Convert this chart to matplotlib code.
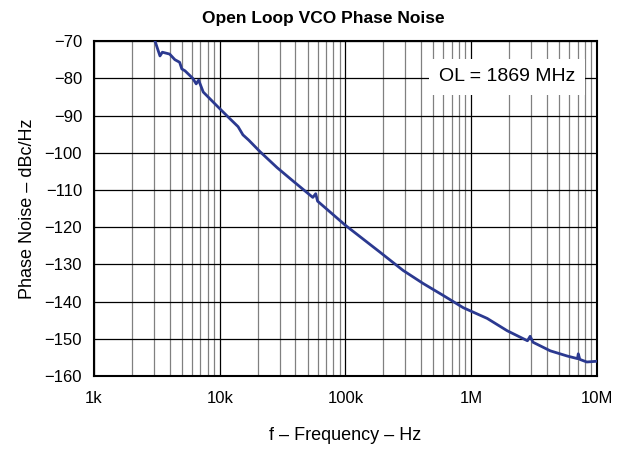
import numpy as np
import matplotlib.pyplot as plt
from matplotlib.ticker import LogLocator, NullFormatter

plt.rcParams['font.family'] = ['Liberation Sans', 'DejaVu Sans']

# phase noise curve (Hz, dBc/Hz)
freq = [3.06e3, 3.2e3, 3.35e3, 3.5e3, 4.0e3, 4.4e3, 4.8e3, 5.0e3, 5.3e3, 6.1e3,
        6.5e3, 6.8e3, 7.4e3, 9.5e3, 12e3, 14e3, 15.3e3, 17e3, 20.9e3,
        28.6e3, 38.3e3, 55e3, 58e3, 60e3, 100e3, 188e3, 287e3, 414e3, 597e3,
        862e3, 1.34e6, 1.93e6, 2.8e6, 2.94e6, 3.1e6, 4.25e6, 5.8e6, 7.0e6,
        7.1e6, 7.3e6, 8.3e6, 1.0e7]
noise = [-70, -72, -74, -73, -73.5, -75, -75.7, -77.5, -78, -80,
         -81.5, -80.5, -83.7, -87.4, -90.8, -93, -95.2, -96.6, -99.7,
         -104, -107.6, -112, -111, -113, -119.5, -126.7, -131.6, -135.1, -138.3,
         -141.6, -144.5, -147.8, -150.5, -149.3, -150.9, -153.2, -154.6, -155.3,
         -154.0, -155.5, -156.2, -156.0]

yticks = [-70, -80, -90, -100, -110, -120, -130, -140, -150, -160]
xticks = [1e3, 1e4, 1e5, 1e6, 1e7]
xlabels = ['1k', '10k', '100k', '1M', '10M']

fig = plt.figure(figsize=(6.18, 4.51), dpi=100)
ax = fig.add_axes([0.152, 0.166, 0.814, 0.743])

ax.semilogx(freq, noise, color='#2B3990', lw=2, zorder=3)

ax.set_xlim(1e3, 1e7)
ax.set_ylim(-160, -70)
ax.set_xticks(xticks)
ax.set_xticklabels(xlabels)
ax.xaxis.set_minor_locator(LogLocator(base=10, subs=np.arange(2, 10)))
ax.xaxis.set_minor_formatter(NullFormatter())
ax.set_yticks(yticks)
ax.set_yticklabels([str(v).replace('-', '\u2212') for v in yticks])

ax.grid(which='major', color='black', lw=0.9)
ax.grid(which='minor', axis='x', color='#808080', lw=0.9)
ax.tick_params(which='both', length=0, labelsize=12)
ax.tick_params(axis='y', pad=8.5)
ax.tick_params(axis='x', pad=11)
for s in ax.spines.values():
    s.set_linewidth(1.5)

fig.text(0.523, 0.96, 'Open Loop VCO Phase Noise', ha='center', va='center',
         fontsize=12.5, fontweight='bold')
ax.set_ylabel('Phase Noise \u2013 dBc/Hz', fontsize=13, labelpad=6)
ax.set_xlabel('f \u2013 Frequency \u2013 Hz', fontsize=13, labelpad=15)

ax.text(0.821, 0.893, 'OL = 1869 MHz', transform=ax.transAxes, ha='center', va='center',
        fontsize=14, zorder=4,
        bbox=dict(facecolor='white', edgecolor='none', pad=7))

fig.savefig('out.png', dpi=100)
